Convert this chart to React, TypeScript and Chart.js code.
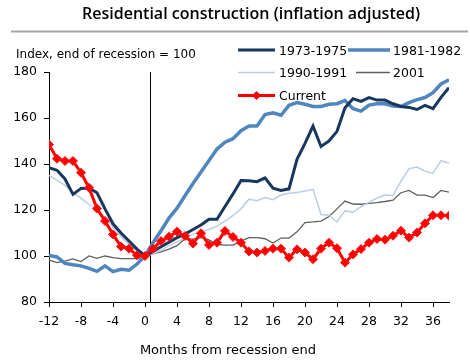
import React, { useEffect, useRef } from "react";
import { Chart, registerables } from "chart.js";

Chart.register(...registerables);

const TITLE = "Residential construction (inflation adjusted)";
const SUBTITLE = "Index, end of recession = 100";
const X_TITLE = "Months from recession end";

const months = [
  -12, -11, -10, -9, -8, -7, -6, -5, -4, -3, -2, -1, 0, 1, 2, 3, 4, 5, 6, 7, 8, 9,
  10, 11, 12, 13, 14, 15, 16, 17, 18, 19, 20, 21, 22, 23, 24, 25, 26, 27, 28, 29,
  30, 31, 32, 33, 34, 35, 36, 37, 38,
];
const xTickValues = [-12, -8, -4, 0, 4, 8, 12, 16, 20, 24, 28, 32, 36];
const yTickValues = [80, 100, 120, 140, 160, 180];
const recessionEndMarker = 0.69;

const series1973 = [
  138.4, 137.3, 133.5, 126.8, 129.4, 129.6, 127.5, 120.5, 114, 110, 106.5, 103, 100,
  102, 104, 106, 108, 109.5, 111.5, 113.5, 116, 116, 121.5, 127, 132.8, 132.7, 132.3,
  134, 129.5, 128.5, 129.2, 142, 149, 156.5, 147.6, 150, 154.2, 164.5, 168.4, 167.2,
  168.9, 167.8, 167.8, 166.2, 165, 164.6, 163.7, 165.5, 164.1, 169, 173.2,
];
const series1981 = [
  100.2, 99.6, 96.8, 96.2, 95.7, 94.6, 93.3, 95.7, 93.2, 94.2, 93.8, 96.5, 100,
  105.8, 111, 116.5, 120.8, 126.2, 131.5, 136.5, 141.5, 146.5, 149.5, 151, 154.5,
  156.5, 156.5, 161.5, 162.3, 161.2, 165.5, 166.7, 166, 165, 165, 166, 166.2, 167.6,
  164, 163, 165.6, 166.2, 166.2, 165.2, 165, 166.7, 168, 168.9, 171, 174.8, 176.6,
];
const series1990 = [
  135, 133, 130.7, 127.6, 125.1, 122.5, 120, 116.8, 112.5, 108.5, 105, 102, 100,
  101, 102.5, 104.5, 106, 108, 109.5, 110.5, 111.5, 113, 115.2, 117.5, 120.5, 124.7,
  124, 125.4, 124.5, 126.5, 127.3, 127.6, 128.3, 129, 118, 117.7, 114.8, 119.6, 119,
  121.5, 123.3, 125.2, 126.5, 126.3, 132.5, 138, 138.7, 136.8, 136, 141.5, 140.3,
];
const series2001 = [
  98.2, 97.1, 97.8, 98.7, 97.6, 100, 99, 100, 99.3, 98.9, 98.9, 98.9, 99.5,
  101, 101.8, 103, 104.5, 107.5, 107.3, 108, 107, 105, 104.7, 104.7, 106.5, 108, 108,
  107.5, 105.6, 107.8, 107.8, 110.5, 114.5, 114.8, 115.2, 117.2, 120.5, 123.9, 122.6,
  122.5, 122.9, 123.2, 123.7, 124.3, 127.5, 128.5, 126.5, 126.5, 125.4, 128.5, 127.8,
];
const seriesCurrent = [
  148.5, 142.3, 141.3, 141.3, 136.2, 129.7, 120.6, 115.2, 109.4, 104.1, 103.2, 100.3, 100,
  103.2, 106.5, 108.4, 110.6, 108.7, 105.4, 109.9, 104.8, 105.8, 110.9, 108.3, 105.8,
  102, 101.5, 102.2, 103.2, 103.2, 99.3, 102.9, 101.5, 98.6, 103.2, 105.8, 103.4, 97.1,
  100.7, 103, 105.8, 107.4, 107.1, 108.8, 111, 108, 110.2, 114.2, 117.7, 117.7, 117.5,
];

const FONT = "'DejaVu Sans', sans-serif";

const toPoints = (vals: number[]) => months.map((m, i) => ({ x: m, y: vals[i] }));

const legendSlots = [
  { ds: 1, x0: 238, x1: 275, y: 50, tx: 279 },
  { ds: 2, x0: 348, x1: 390, y: 50, tx: 393 },
  { ds: 3, x0: 238, x1: 275, y: 72.5, tx: 279 },
  { ds: 4, x0: 356, x1: 390, y: 72.5, tx: 393 },
  { ds: 0, x0: 238, x1: 275, y: 95.5, tx: 279 },
];

const decorPlugin = {
  id: "decor",
  afterDraw(chart: any) {
    const ctx = chart.ctx as CanvasRenderingContext2D;
    ctx.save();
    ctx.fillStyle = "#000";
    ctx.textBaseline = "alphabetic";
    ctx.textAlign = "center";
    ctx.font = "600 16px 'Open Sans', sans-serif";
    ctx.fillText(TITLE, 251, 18.5);

    ctx.strokeStyle = "#A6A6A6";
    ctx.lineWidth = 2;
    ctx.beginPath();
    ctx.moveTo(11, 31.5);
    ctx.lineTo(468, 31.5);
    ctx.stroke();

    ctx.textAlign = "left";
    ctx.font = "12px " + FONT;
    ctx.fillText(SUBTITLE, 16, 57.5);

    ctx.textAlign = "center";
    ctx.font = "13px " + FONT;
    ctx.fillText(X_TITLE, 228, 354);

    ctx.textAlign = "left";
    ctx.font = "12.5px " + FONT;
    legendSlots.forEach((s) => {
      const d = chart.data.datasets[s.ds];
      ctx.strokeStyle = d.borderColor;
      ctx.lineWidth = d.borderWidth;
      ctx.beginPath();
      ctx.moveTo(s.x0, s.y);
      ctx.lineTo(s.x1, s.y);
      ctx.stroke();
      if (d.pointStyle === "rectRot") {
        const cx = (s.x0 + s.x1) / 2;
        const r = d.pointRadius;
        ctx.fillStyle = d.pointBackgroundColor;
        ctx.beginPath();
        ctx.moveTo(cx, s.y - r);
        ctx.lineTo(cx + r, s.y);
        ctx.lineTo(cx, s.y + r);
        ctx.lineTo(cx - r, s.y);
        ctx.closePath();
        ctx.fill();
      }
      ctx.fillStyle = "#000";
      ctx.fillText(d.label, s.tx, s.y + 4.5);
    });
    ctx.restore();
  },
};

export default function App() {
  const ref = useRef<HTMLCanvasElement | null>(null);

  useEffect(() => {
    document.body.style.margin = "0";
    const canvas = ref.current;
    if (!canvas) return;
    const chart = new Chart(canvas, {
      type: "line",
      data: {
        datasets: [
          {
            label: "Current",
            data: toPoints(seriesCurrent),
            borderColor: "#FF0000",
            backgroundColor: "#FF0000",
            borderWidth: 3,
            pointStyle: "rectRot",
            pointRadius: 4.5,
            pointBackgroundColor: "#FF0000",
            pointBorderColor: "#FF1A1A",
            pointBorderWidth: 1,
            order: 0,
          },
          {
            label: "1973-1975",
            data: toPoints(series1973),
            borderColor: "#17375E",
            borderWidth: 3,
            pointRadius: 0,
            order: 1,
          },
          {
            label: "1981-1982",
            data: toPoints(series1981),
            borderColor: "#4F86C0",
            borderWidth: 3.5,
            pointRadius: 0,
            order: 2,
          },
          {
            label: "1990-1991",
            data: toPoints(series1990),
            borderColor: "#B9CDE5",
            borderWidth: 1.5,
            pointRadius: 0,
            order: 3,
          },
          {
            label: "2001",
            data: toPoints(series2001),
            borderColor: "#5F5F5F",
            borderWidth: 1.3,
            pointRadius: 0,
            order: 4,
          },
          {
            label: "recession end",
            data: [
              { x: recessionEndMarker, y: yTickValues[0] },
              { x: recessionEndMarker, y: yTickValues[yTickValues.length - 1] },
            ],
            borderColor: "#000",
            borderWidth: 1,
            pointRadius: 0,
            order: 5,
          },
        ],
      },
      options: {
        animation: false,
        responsive: false,
        devicePixelRatio: 1,
        layout: { padding: { top: 72, right: 21, left: 0, bottom: 0 } },
        plugins: {
          legend: { display: false },
          tooltip: { enabled: false },
          title: { display: false },
        },
        elements: { line: { tension: 0 } },
        scales: {
          x: {
            type: "linear",
            min: xTickValues[0],
            max: months[months.length - 1],
            afterBuildTicks: (scale: any) => {
              scale.ticks = xTickValues.map((v) => ({ value: v }));
            },
            afterFit: (scale: any) => {
              scale.height = 62;
            },
            grid: {
              display: true,
              drawOnChartArea: false,
              drawTicks: true,
              tickLength: 5,
              color: "#000",
              lineWidth: 1,
            },
            border: { display: true, color: "#000", width: 1 },
            ticks: {
              color: "#000",
              font: { family: FONT, size: 12.5 },
              padding: 7,
              maxRotation: 0,
              autoSkip: false,
            },
          },
          y: {
            type: "linear",
            min: yTickValues[0],
            max: yTickValues[yTickValues.length - 1],
            afterBuildTicks: (scale: any) => {
              scale.ticks = yTickValues.map((v) => ({ value: v }));
            },
            afterFit: (scale: any) => {
              scale.width = 49;
            },
            grid: {
              display: true,
              drawOnChartArea: false,
              drawTicks: true,
              tickLength: 5,
              color: "#000",
              lineWidth: 1,
            },
            border: { display: true, color: "#000", width: 1 },
            ticks: {
              color: "#000",
              font: { family: FONT, size: 12.5 },
              padding: 7,
              autoSkip: false,
            },
          },
        },
      },
      plugins: [decorPlugin],
    });
    return () => chart.destroy();
  }, []);

  return (
    <div style={{ position: "fixed", left: 0, top: 0, width: 470, height: 364, background: "#fff" }}>
      <canvas ref={ref} width={470} height={364} style={{ display: "block" }} />
    </div>
  );
}
